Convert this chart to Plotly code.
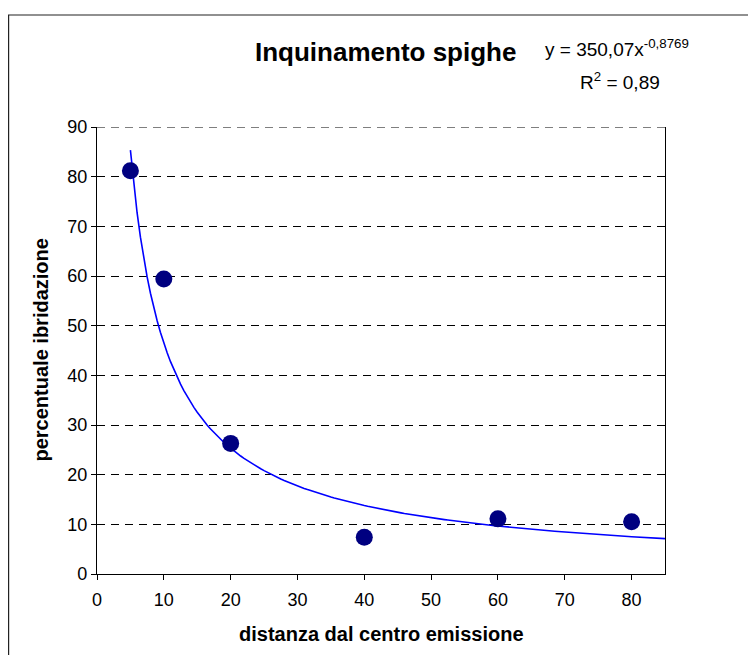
import numpy as np
import plotly.graph_objects as go

# data
distance = [5, 10, 20, 40, 60, 80]
hybridization = [81.2, 59.4, 26.3, 7.4, 11.1, 10.5]

# power trendline shown on the chart: y = a * x^b
trend_a = 350.07
trend_b = -0.8769
trend_x = np.linspace(5, 85, 161)
trend_y = trend_a * trend_x ** trend_b

x_ticks = [0, 10, 20, 30, 40, 50, 60, 70, 80]
y_ticks = [0, 10, 20, 30, 40, 50, 60, 70, 80, 90]
y_max = y_ticks[-1]

OFF = 8  # page body margin
W, H = 756 - OFF, 655 - OFF
# plot area in screen pixels
L, R, T, B = 97, 665, 127, 574


def px(x):
    return (x - L) / (R - L)


def py(y):
    return (B - y) / (B - T)


FONT = "Liberation Sans, Arial, sans-serif"

fig = go.Figure()
fig.add_trace(go.Scatter(x=trend_x, y=trend_y, mode="lines",
                         line=dict(color="#0000FF", width=1.6),
                         hoverinfo="skip", showlegend=False))
fig.add_trace(go.Scatter(x=distance, y=hybridization, mode="markers",
                         marker=dict(color="#000080", size=17, line=dict(width=0)),
                         showlegend=False))

fig.update_layout(
    width=W, height=H,
    margin=dict(l=L - OFF, r=W - (R - OFF), t=T - OFF, b=H - (B - OFF), pad=0),
    paper_bgcolor="white", plot_bgcolor="white",
    font=dict(family=FONT, color="black", size=18),
    xaxis=dict(range=[0, 85], tickvals=x_ticks, ticktext=[str(v) for v in x_ticks],
               showgrid=False, zeroline=False, showline=True, linecolor="black",
               linewidth=1.3, ticks="outside", ticklen=5, tickcolor="black",
               ticklabelstandoff=4,
               tickfont=dict(size=18, family=FONT)),
    yaxis=dict(range=[0, y_max], tickvals=y_ticks, ticktext=[str(v) for v in y_ticks],
               showgrid=True, gridcolor="black", gridwidth=1, griddash="8px,6px",
               zeroline=False, showline=True, mirror=True, linecolor="black",
               linewidth=1.3, ticks="outside", ticklen=5, tickcolor="black",
               tickfont=dict(size=18, family=FONT)),
    shapes=[dict(type="rect", xref="paper", yref="paper",
                 x0=px(8.6), x1=px(W + 60), y0=py(H + 60), y1=py(15),
                 line=dict(color="#222222", width=1.2), fillcolor="rgba(0,0,0,0)",
                 layer="below"),
            dict(type="line", xref="paper", yref="y", x0=0, x1=1, y0=y_max, y1=y_max,
                 line=dict(color="black", width=1, dash="8px,6px"))],
    annotations=[
        dict(text="<b>Inquinamento spighe</b>", xref="paper", yref="paper",
             x=px(385), y=py(52), xanchor="center", yanchor="middle",
             showarrow=False, font=dict(size=26, family=FONT)),
        dict(text="y = 350,07x<sup>-0,8769</sup>", xref="paper", yref="paper",
             x=px(543), y=py(48), xanchor="left", yanchor="middle",
             showarrow=False, font=dict(size=19, family=FONT)),
        dict(text="R<sup>2</sup> = 0,89", xref="paper", yref="paper",
             x=px(578), y=py(81), xanchor="left", yanchor="middle",
             showarrow=False, font=dict(size=19, family=FONT)),
        dict(text="<b>percentuale ibridazione</b>", xref="paper", yref="paper",
             x=px(40), y=0.5, xanchor="center", yanchor="middle", textangle=-90,
             showarrow=False, font=dict(size=20, family=FONT)),
        dict(text="<b>distanza dal centro emissione</b>", xref="paper", yref="paper",
             x=0.5, y=py(634), xanchor="center", yanchor="middle",
             showarrow=False, font=dict(size=20, family=FONT)),
    ],
)

fig.write_html("out.html")
